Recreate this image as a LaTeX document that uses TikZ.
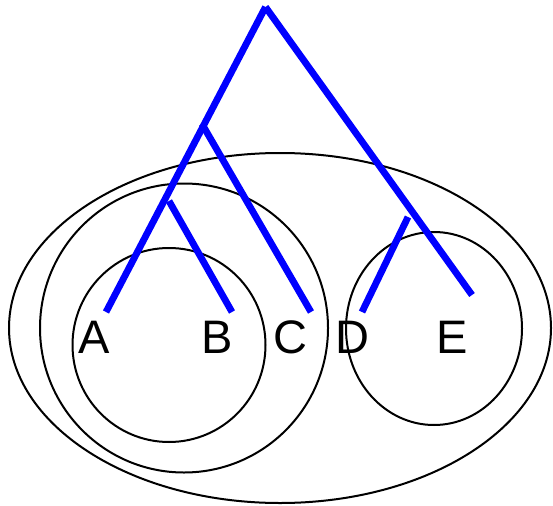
\documentclass[tikz,border=0pt]{standalone}
\usepackage{fontspec}
\setmainfont{Liberation Sans}
\begin{document}
\begin{tikzpicture}[x=1pt,y=-1pt,
  branch/.style={draw=blue,line width=6.8pt},
  ring/.style={draw=black,line width=2pt},
  leaf/.style={anchor=base,inner sep=0pt,font=\fontsize{47}{47}\selectfont}]
\useasboundingbox (0,0) rectangle (553,505);
% sets
\draw[ring] (280,328) ellipse [x radius=271,y radius=175];
\draw[ring] (184,328) ellipse [x radius=144,y radius=144.5];
\draw[ring] (169,345) ellipse [x radius=96.5,y radius=97];
\draw[ring] (434,328.5) ellipse [x radius=88,y radius=96.5];
% tree
\coordinate (root) at (265.5,7);
\coordinate (abc) at (202,124);
\coordinate (ab) at (169,201);
\coordinate (de) at (408,217);
\coordinate (a) at (106,312);
\coordinate (b) at (232,312);
\coordinate (c) at (311,312);
\coordinate (d) at (362,312);
\coordinate (e) at (472,295);
\draw[branch] (root) -- (a);
\draw[branch] (root) -- (e);
\draw[branch] (abc) -- (c);
\draw[branch] (ab) -- (b);
\draw[branch] (de) -- (d);
% labels
\node[leaf] (la) at (94.5,353) {A};
\node[leaf] (lb) at (217,353) {B};
\node[leaf] (lc) at (290,353) {C};
\node[leaf] (ld) at (352,353) {D};
\node[leaf] (le) at (452,353) {E};
\end{tikzpicture}
\end{document}
